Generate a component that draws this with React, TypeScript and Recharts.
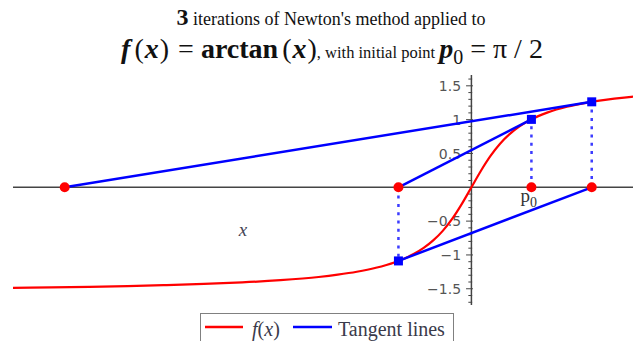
import React from "react";
import {
  ComposedChart,
  Line,
  Scatter,
  XAxis,
  YAxis,
  ReferenceLine,
} from "recharts";

// f(x) = arctan(x) sampled along the visible range
const curveX = [
  -12, -11, -10, -9, -8, -7, -6, -5, -4, -3.5, -3, -2.5, -2, -1.75, -1.5,
  -1.25, -1, -0.75, -0.5, -0.25, 0, 0.25, 0.5, 0.75, 1, 1.25, 1.5, 1.75, 2,
  2.5, 3, 3.5, 4, 4.23,
];
const curveY = [
  -1.488, -1.48, -1.471, -1.46, -1.446, -1.429, -1.406, -1.373, -1.326,
  -1.292, -1.249, -1.19, -1.107, -1.052, -0.983, -0.896, -0.785, -0.644,
  -0.464, -0.245, 0, 0.245, 0.464, 0.644, 0.785, 0.896, 0.983, 1.052, 1.107,
  1.19, 1.249, 1.292, 1.326, 1.339,
];

// Newton iterates p0..p3 and f(p) at p0..p2
const iterates = [1.5708, -1.9101, 3.1497, -10.647];
const fAtIterates = [1.0039, -1.0885, 1.2634];

// y axis ticks
const yMajorTicks = [-1.5, -1, -0.5, 0.5, 1, 1.5];
const yTickLabels = ["\u22121.5", "\u22121", "\u22120.5", "0.5", "1", "1.5"];
const yMinorTicks = [
  -1.7, -1.6, -1.4, -1.3, -1.2, -1.1, -0.9, -0.8, -0.7, -0.6, -0.4, -0.3,
  -0.2, -0.1, 0.1, 0.2, 0.3, 0.4, 0.6, 0.7, 0.8, 0.9, 1.1, 1.2, 1.3, 1.4, 1.6,
];

const X_DOMAIN: [number, number] = [-12, 4.23];
const Y_DOMAIN: [number, number] = [-1.74, 1.66];

const BLUE = "#0000ff";
const RED = "#ff0000";
const AXIS = "#444";

const curveData = curveX.map((x, i) => ({ x, y: curveY[i] }));

const tangents = fAtIterates.map((fy, k) => [
  { x: iterates[k], y: fy },
  { x: iterates[k + 1], y: 0 },
]);

const drops = fAtIterates.map((fy, k) => [
  { x: iterates[k], y: 0 },
  { x: iterates[k], y: fy },
]);

const axisPoints = iterates.map((x) => ({ x, y: 0 }));
const curvePoints = fAtIterates.map((y, k) => ({ x: iterates[k], y }));

const tickLabel = (text: string) => (props: any) => {
  const vb = props.viewBox || {};
  return (
    <text
      x={vb.x - 5}
      y={vb.y}
      dy="0.36em"
      textAnchor="end"
      fontFamily="DejaVu Sans"
      fontSize={14}
      fill="#555"
    >
      {text}
    </text>
  );
};

const p0Label = (props: any) => {
  const vb = props.viewBox || {};
  return (
    <text
      x={vb.x - 11}
      y={vb.y + 15}
      fontFamily="Liberation Serif"
      fontSize={19}
      fill="#333"
    >
      p
      <tspan fontSize={14} dy={5}>
        0
      </tspan>
    </text>
  );
};

const RedDot = (props: any) => (
  <circle cx={props.cx} cy={props.cy} r={5} fill={RED} />
);

const BlueSquare = (props: any) => (
  <rect x={props.cx - 4.5} y={props.cy - 4.5} width={9} height={9} fill={BLUE} />
);

function Title() {
  return (
    <svg
      width={633}
      height={341}
      style={{ position: "absolute", left: 0, top: 0, pointerEvents: "none" }}
    >
      <text x={331} y={25} textAnchor="middle" fontFamily="Liberation Serif" fill="#111">
        <tspan fontSize={24} fontWeight="bold">3</tspan>
        <tspan fontSize={18}> iterations of Newton's method applied to</tspan>
      </text>
      <text x={332} y={58} textAnchor="middle" fontFamily="Liberation Serif" fill="#111" fontSize={28}>
        <tspan fontWeight="bold" fontStyle="italic">f</tspan>
        <tspan dx={4}>(</tspan>
        <tspan fontWeight="bold" fontStyle="italic" dx={1}>x</tspan>
        <tspan dx={1}>)</tspan>
        <tspan dx={2}> = </tspan>
        <tspan fontWeight="bold">arctan</tspan>
        <tspan dx={4}>(</tspan>
        <tspan fontWeight="bold" fontStyle="italic" dx={1}>x</tspan>
        <tspan dx={1}>)</tspan>
        <tspan fontSize={16.5}>, with initial point </tspan>
        <tspan fontWeight="bold" fontStyle="italic">p</tspan>
        <tspan fontSize={20} dy={6}>0</tspan>
        <tspan dy={-6}> = π / 2</tspan>
      </text>

      <text
        x={243}
        y={236}
        textAnchor="middle"
        fontFamily="Liberation Serif"
        fontStyle="italic"
        fontSize={19}
        fill="#445"
      >
        x
      </text>

      <rect x={200.5} y={313.5} width={253} height={40} fill="#fff" stroke="#808080" />
      <line x1={205} y1={327} x2={243} y2={327} stroke={RED} strokeWidth={2.5} />
      <text x={252} y={336} fontFamily="Liberation Serif" fontSize={20} fill="#3a3a4a">
        <tspan fontStyle="italic">f</tspan>(<tspan fontStyle="italic">x</tspan>)
      </text>
      <line x1={293} y1={327} x2={332} y2={327} stroke={BLUE} strokeWidth={2.5} />
      <text x={338} y={336} fontFamily="Liberation Serif" fontSize={20} fill="#3a3a4a">
        Tangent lines
      </text>
    </svg>
  );
}

export default function App() {
  return (
    <div style={{ position: "absolute", left: 0, top: 0, width: 633, height: 341, background: "#fff" }}>
      <ComposedChart
        width={633}
        height={341}
        margin={{ top: 75, right: 0, bottom: 36, left: 13 }}
      >
        <XAxis dataKey="x" type="number" domain={X_DOMAIN} allowDataOverflow hide />
        <YAxis dataKey="y" type="number" domain={Y_DOMAIN} allowDataOverflow hide />

        <ReferenceLine y={0} stroke={AXIS} strokeWidth={1.5} />
        <ReferenceLine x={0} stroke={AXIS} strokeWidth={1.5} />
        {yMinorTicks.map((v) => (
          <ReferenceLine
            key={"m" + v}
            segment={[
              { x: -0.08, y: v },
              { x: 0.02, y: v },
            ]}
            stroke={AXIS}
            strokeWidth={1}
          />
        ))}
        {yMajorTicks.map((v, i) => (
          <ReferenceLine
            key={"M" + v}
            segment={[
              { x: -0.14, y: v },
              { x: 0.04, y: v },
            ]}
            stroke={AXIS}
            strokeWidth={1}
            label={tickLabel(yTickLabels[i])}
          />
        ))}
        <ReferenceLine
          segment={[
            { x: iterates[0], y: 0 },
            { x: iterates[0], y: -0.07 },
          ]}
          stroke={AXIS}
          strokeWidth={1}
          label={p0Label}
        />

        <Line
          data={curveData}
          dataKey="y"
          type="monotone"
          stroke={RED}
          strokeWidth={2.2}
          dot={false}
          isAnimationActive={false}
        />
        {tangents.map((seg, k) => (
          <Line
            key={"t" + k}
            data={seg}
            dataKey="y"
            type="linear"
            stroke={BLUE}
            strokeWidth={2.5}
            dot={false}
            isAnimationActive={false}
          />
        ))}
        {drops.map((seg, k) => (
          <Line
            key={"d" + k}
            data={seg}
            dataKey="y"
            type="linear"
            stroke="#3c3cff"
            strokeWidth={2.5}
            strokeDasharray="3 5.3"
            dot={false}
            isAnimationActive={false}
          />
        ))}
        <Scatter data={curvePoints} shape={BlueSquare} isAnimationActive={false} />
        <Scatter data={axisPoints} shape={RedDot} isAnimationActive={false} />
      </ComposedChart>
      <Title />
    </div>
  );
}
